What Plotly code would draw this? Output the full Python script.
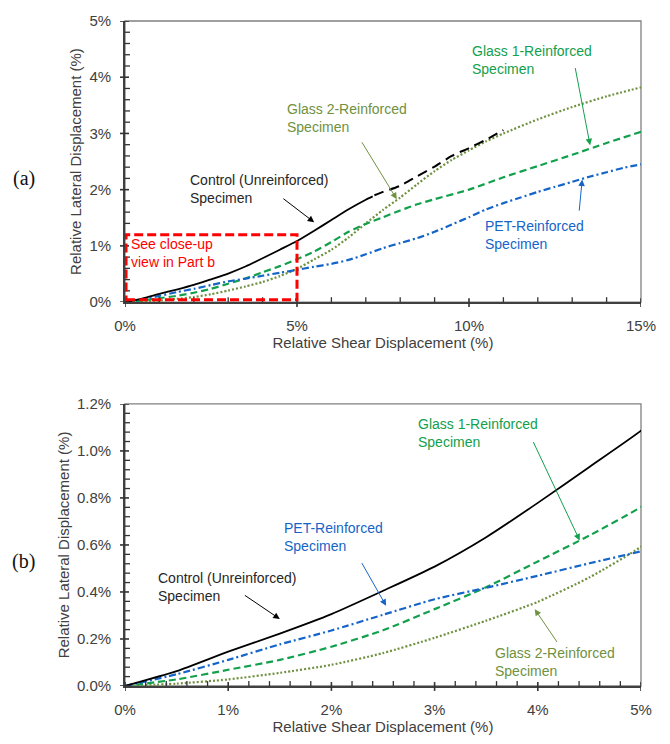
import numpy as np
import plotly.graph_objects as go

# ---------------- data (x: relative shear displacement %, y: relative lateral displacement %)
control_x = [0, 0.5, 1.0, 1.5, 2.0, 2.5, 3.0, 3.5, 4.0, 4.5, 5.0, 5.5, 6.0, 6.5, 7.0, 7.2]
control_y = [0, 0.063, 0.146, 0.223, 0.306, 0.405, 0.508, 0.633, 0.779, 0.932, 1.086,
             1.27, 1.46, 1.65, 1.82, 1.88]
control_ext_x = [7.25, 7.5, 8.0, 8.5, 9.0, 9.5, 10.0, 10.5, 11.0]
control_ext_y = [1.90, 1.96, 2.07, 2.24, 2.41, 2.60, 2.74, 2.89, 3.06]

glass1_x = [0, 0.5, 1, 1.5, 2, 2.5, 3, 3.5, 4, 4.5, 5, 5.5, 6, 6.5, 7, 7.5, 8, 8.5, 9,
            10, 11, 12, 13, 14, 15]
glass1_y = [0, 0.028, 0.069, 0.111, 0.167, 0.237, 0.327, 0.42, 0.53, 0.64, 0.761, 0.90,
            1.07, 1.25, 1.39, 1.51, 1.63, 1.74, 1.83, 2.00, 2.22, 2.42, 2.62, 2.83, 3.03]

glass2_x = [0, 0.5, 1, 1.5, 2, 2.5, 3, 3.5, 4, 4.5, 5, 5.5, 6, 6.5, 7, 7.5, 8, 8.5, 9,
            9.5, 10, 10.5, 11, 12, 13, 14, 15]
glass2_y = [0, 0.01, 0.028, 0.056, 0.09, 0.14, 0.205, 0.278, 0.358, 0.462, 0.592, 0.76,
            0.93, 1.15, 1.40, 1.64, 1.86, 2.10, 2.33, 2.53, 2.70, 2.86, 3.00, 3.25, 3.47,
            3.66, 3.82]

pet_x = [0, 0.5, 1, 1.5, 2, 2.5, 3, 3.5, 4, 4.5, 5, 5.5, 6, 6.5, 7, 7.5, 8, 8.5, 9, 9.5,
         10, 10.5, 11, 11.5, 12, 12.5, 13, 13.5, 14, 14.5, 15]
pet_y = [0, 0.05, 0.111, 0.177, 0.236, 0.303, 0.369, 0.418, 0.469, 0.522, 0.573, 0.63,
         0.68, 0.75, 0.85, 0.96, 1.05, 1.14, 1.25, 1.38, 1.51, 1.65, 1.76, 1.86, 1.96, 2.05,
         2.14, 2.23, 2.31, 2.39, 2.45]

# axis ranges / tick steps
a_xrange, a_yrange = [0, 15], [0, 5]
b_xrange, b_yrange = [0, 5], [0, 1.2]
a_xstep, a_xminor, a_ystep, a_yminor = 5, 1, 1, 0.2
b_xstep, b_xminor, b_ystep, b_yminor = 1, 0.2, 0.2, 0.04

# ---------------- styles
BLACK = "#000000"
BLUE = "#1565C8"
GREEN = "#12A04C"
OLIVE = "#6F9140"
AXC = "#404040"
TICKC = "#333333"
FONT = "Liberation Sans, Arial, sans-serif"

W, H = 670, 744
M = dict(l=125, r=29, t=15, b=50)
ya_dom = [0.5773, 1.0]
yb_dom = [0.0, 0.4242]
plot_w = W - M["l"] - M["r"]
plot_h = H - M["t"] - M["b"]

series = [
    dict(name="Glass 2-Reinforced", x=glass2_x, y=glass2_y, color=OLIVE, dash="2px,2px", width=2.2),
    dict(name="Glass 1-Reinforced", x=glass1_x, y=glass1_y, color=GREEN, dash="7px,4px", width=2.2),
    dict(name="PET-Reinforced", x=pet_x, y=pet_y, color=BLUE, dash="7px,3px,2px,3px", width=2.2),
    dict(name="Control (Unreinforced)", x=control_x, y=control_y, color=BLACK, dash="solid", width=1.8),
]

fig = go.Figure()
for xa, ya in [("x", "y"), ("x2", "y2")]:
    for s in series:
        fig.add_trace(go.Scatter(x=s["x"], y=s["y"], mode="lines", name=s["name"],
                                 line=dict(color=s["color"], dash=s["dash"], width=s["width"],
                                           shape="spline", smoothing=0.6),
                                 xaxis=xa, yaxis=ya, showlegend=False))
fig.add_trace(go.Scatter(x=control_ext_x, y=control_ext_y, mode="lines",
                         line=dict(color=BLACK, dash="10px,6px", width=2, shape="spline",
                                   smoothing=0.6),
                         xaxis="x", yaxis="y", showlegend=False))


def axis(rng, dtick, fmt, domain, anchor, title):
    return dict(range=rng, domain=domain, anchor=anchor, dtick=dtick, tick0=0,
                tickformat=fmt, ticksuffix="%", ticks="", ticklabelstandoff=9,
                showline=True, linecolor=AXC, linewidth=1.6, showgrid=False, zeroline=False,
                tickfont=dict(family=FONT, size=15, color=AXC),
                title=dict(text=title, font=dict(family=FONT, size=15, color=AXC), standoff=4),
                fixedrange=True)


fig.update_layout(
    width=W, height=H, margin=M,
    paper_bgcolor="white", plot_bgcolor="white",
    xaxis=axis(a_xrange, a_xstep, "d", [0, 1], "y", "Relative Shear Displacement (%)"),
    yaxis=axis(a_yrange, a_ystep, "d", ya_dom, "x", "Relative Lateral Displacement (%)"),
    xaxis2=axis(b_xrange, b_xstep, "d", [0, 1], "y2", "Relative Shear Displacement (%)"),
    yaxis2=axis(b_yrange, b_ystep, ".1f", yb_dom, "x2", "Relative Lateral Displacement (%)"),
)

shapes = []
# plot-area frame
for xr, yr in [("x domain", "y domain"), ("x2 domain", "y2 domain")]:
    shapes.append(dict(type="rect", xref=xr, yref=yr, x0=0, x1=1, y0=0, y1=1,
                       line=dict(color="#808080", width=1.3), layer="below"))


# tick marks (major: crossing the axis, minor: inside), positions from the axis steps
def tick_marks(xa, ya, xr, yr, xmaj, xmin, ymaj, ymin, dom):
    ph = plot_h * (dom[1] - dom[0])
    for rng, step, mstep, is_x in [(xr, xmaj, xmin, True), (yr, ymaj, ymin, False)]:
        n = int(round((rng[1] - rng[0]) / mstep))
        ratio = int(round(step / mstep))
        size = ph if is_x else plot_w
        for i in range(n + 1):
            v = rng[0] + i * mstep
            major = (i % ratio == 0)
            lo, hi = ((-5.0, 4.0) if major else (0.0, 5.0))
            lo, hi = lo / size, hi / size
            w = 1.6 if major else 1.3
            if is_x:
                shapes.append(dict(type="line", xref=xa, x0=v, x1=v, yref=ya + " domain",
                                   y0=lo, y1=hi, line=dict(color=TICKC, width=w)))
            else:
                shapes.append(dict(type="line", yref=ya, y0=v, y1=v, xref=xa + " domain",
                                   x0=lo, x1=hi, line=dict(color=TICKC, width=w)))


tick_marks("x", "y", a_xrange, a_yrange, a_xstep, a_xminor, a_ystep, a_yminor, ya_dom)
tick_marks("x2", "y2", b_xrange, b_yrange, b_xstep, b_xminor, b_ystep, b_yminor, yb_dom)

# red close-up box in panel (a) = range of panel (b)
shapes.append(dict(type="rect", xref="x", yref="y", x0=b_xrange[0] + 0.03, x1=b_xrange[1],
                   y0=a_yrange[0] + 0.04, y1=b_yrange[1],
                   line=dict(color="#FF0000", width=3, dash="9px,4px")))
fig.update_layout(shapes=shapes)

ann = []


def label(text, x, y, color, xr, yr):
    ann.append(dict(text=text, x=x, y=y, xref=xr, yref=yr, showarrow=False, xanchor="left",
                    yanchor="middle", align="left",
                    font=dict(family=FONT, size=14, color=color)))


def arrow(tail, tip, color, xr, yr):
    ann.append(dict(text="", x=tip[0], y=tip[1], ax=tail[0], ay=tail[1], xref=xr, yref=yr,
                    axref=xr, ayref=yr, showarrow=True, arrowhead=2, arrowsize=1.3,
                    arrowwidth=1, arrowcolor=color, standoff=0))


CTXT = "#262626"
# panel (a)
label("Control (Unreinforced)<br>Specimen", 1.83, 2.02, CTXT, "x", "y")
arrow((4.56, 1.86), (5.50, 1.42), BLACK, "x", "y")
label("Glass 2-Reinforced<br>Specimen", 4.65, 3.28, OLIVE, "x", "y")
arrow((6.86, 2.87), (7.90, 1.83), OLIVE, "x", "y")
label("Glass 1-Reinforced<br>Specimen", 10.03, 4.30, GREEN, "x", "y")
arrow((13.08, 4.19), (13.52, 2.79), GREEN, "x", "y")
label("PET-Reinforced<br>Specimen", 10.41, 1.20, BLUE, "x", "y")
arrow((13.20, 1.60), (13.29, 2.18), BLUE, "x", "y")
label("See close-up<br>view in Part b", 0.12, 0.87, "#FF0000", "x", "y")
# panel (b)
label("Control (Unreinforced)<br>Specimen", 0.297, 0.421, CTXT, "x2", "y2")
arrow((1.147, 0.39), (1.50, 0.285), BLACK, "x2", "y2")
label("PET-Reinforced<br>Specimen", 1.518, 0.633, BLUE, "x2", "y2")
arrow((2.287, 0.529), (2.53, 0.341), BLUE, "x2", "y2")
label("Glass 1-Reinforced<br>Specimen", 2.823, 1.075, GREEN, "x2", "y2")
arrow((3.95, 1.044), (4.406, 0.619), GREEN, "x2", "y2")
label("Glass 2-Reinforced<br>Specimen", 3.566, 0.101, OLIVE, "x2", "y2")
arrow((4.196, 0.181), (3.97, 0.327), OLIVE, "x2", "y2")

for t, yv in [("(a)", 0.763), ("(b)", 0.187)]:
    ann.append(dict(text=t, x=-0.196, y=yv, xref="paper", yref="paper", showarrow=False,
                    xanchor="center", yanchor="middle",
                    font=dict(family="Liberation Serif, Times New Roman, serif", size=20,
                              color="#111111")))

fig.update_layout(annotations=ann)
fig.write_html("out.html")
